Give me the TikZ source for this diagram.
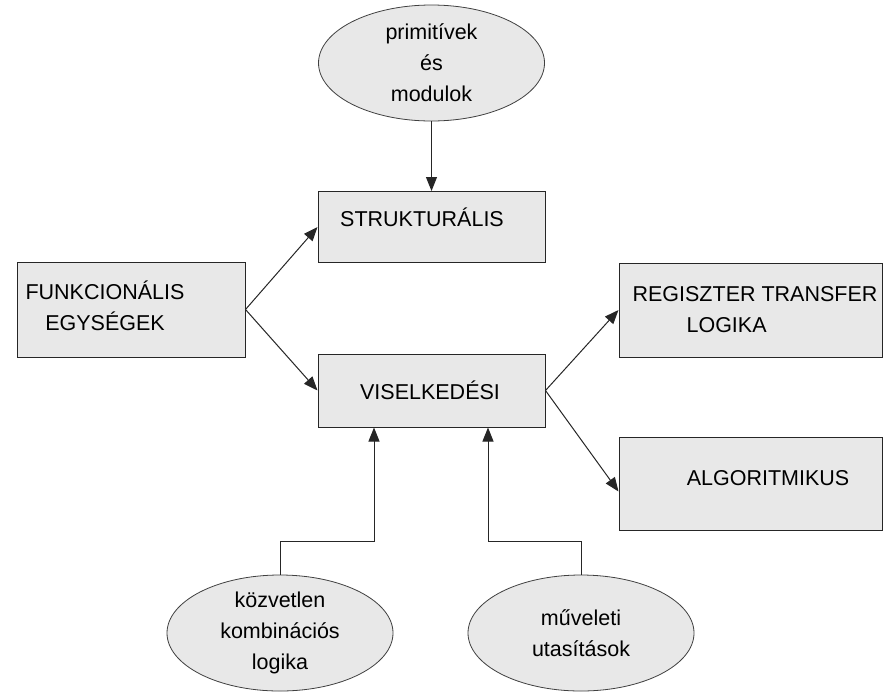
\documentclass[tikz,border=0pt]{standalone}
\usepackage{fontspec}
\setmainfont{Liberation Sans}
\usetikzlibrary{shapes.geometric}
\usetikzlibrary{arrows.meta}
\tikzset{
   block/.style={draw=black!85, fill=black!9, line width=1pt, inner sep=0pt},
   bubble/.style={ellipse, draw=black!75, fill=black!9, line width=0.8pt,
      inner sep=0pt, align=center, minimum width=226pt, minimum height=116pt},
   label text/.style={inner sep=0pt, align=center},
   link/.style={draw=black!85, line width=1pt,
      -{Triangle[length=14pt,width=11pt]}},
    }

\begin{document}
\begin{tikzpicture}[x=1pt, y=-1pt, font=\fontsize{21.5}{31}\selectfont]
            \useasboundingbox (0,0) rectangle (885,691);
            % boxes
            \node[block, minimum width=228pt, minimum height=95pt] (funk) at (131,309.5) {};
            \node[block, minimum width=227pt, minimum height=71pt] (strukt) at (431.5,227) {};
            \node[block, minimum width=227pt, minimum height=73pt] (visel) at (431.5,390.5) {};
            \node[block, minimum width=263pt, minimum height=94pt] (regt) at (750.5,310) {};
            \node[block, minimum width=263pt, minimum height=93pt] (algo) at (750.5,483.5) {};
            \node[label text] (funk-t) at (105,306) {FUNKCIONÁLIS\\EGYSÉGEK};
            \node[label text] (strukt-t) at (422,217) {STRUKTURÁLIS};
            \node[label text] (visel-t) at (430,390) {VISELKEDÉSI};
            \node[label text, align=left] (regt-t) at (755,310) {REGISZTER TRANSFER\\\hspace*{54pt}LOGIKA};
            \node[label text] (algo-t) at (768,478) {ALGORITMIKUS};
            % ellipses
            \node[bubble] (prim) at (431.5,63) {primitívek\\és\\modulok};
            \node[bubble] (kozv) at (280,633) {közvetlen\\kombinációs\\logika};
            \node[bubble] (muv) at (581,633) {műveleti\\utasítások};
            % connectors
            \coordinate (kbend) at (374,541);
            \coordinate (mbend) at (488,541);
            \draw[link] (prim.south) -- (strukt.north);
            \draw[link] (funk.east) -- (strukt.west);
            \draw[link] (funk.east) -- (visel.west);
            \draw[link] (visel.east) -- (regt.west);
            \draw[link] (visel.east) -- ([yshift=-8pt]algo.west);
            \draw[link] (kozv.north) |- (kbend) -- (kbend |- visel.south);
            \draw[link] (muv.north) |- (mbend) -- (mbend |- visel.south);
        \end{tikzpicture}
\end{document}
